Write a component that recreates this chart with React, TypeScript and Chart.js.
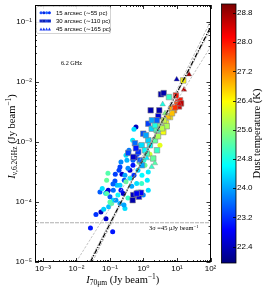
import React, { useEffect, useRef } from 'react';
import { Chart, registerables } from 'chart.js';
Chart.register(...registerables);

// ---------------- data ----------------
// 15 arcsec (circles)
const circleX = [0.0262, 0.0382, 0.0538, 0.076, 0.1205, 0.0914, 0.1124, 0.199, 0.28, 0.262,
  0.0503, 0.0744, 0.083, 0.1256, 0.1, 0.0649, 0.213, 0.199, 0.0871, 0.144,
  0.228, 0.267, 0.186, 0.0797, 0.141, 0.28, 0.395, 0.0889, 0.1256, 0.199,
  0.301, 0.445, 0.627, 0.883, 0.1, 0.597, 0.52, 0.476, 3.11, 0.787,
  0.653, 0.569, 1.56, 1.11, 1.39, 0.486, 0.486, 0.344, 0.685, 0.902,
  0.395, 0.162, 0.0589, 0.0797, 0.249, 0.986, 1.39, 1.3, 0.321, 0.369,
  0.301, 1.03, 0.734, 0.173, 0.151, 0.344, 0.213, 0.123, 0.52];
const circleY = [3.67e-5, 6.15e-5, 6.78e-5, 5.24e-5, 3.18e-5, 8.3e-5, 9.44e-5, 9.44e-5, 7.8e-5, 8.85e-5,
  1.47e-4, 1.4e-4, 1.47e-4, 1.07e-4, 9.93e-5, 7.59e-5, 4.63e-4, 3.83e-4, 3.0e-4, 2.9e-4,
  2.9e-4, 2.3e-4, 3.37e-4, 2.3e-4, 2.24e-4, 2.79e-4, 3.37e-4, 1.57e-4, 1.57e-4, 1.9e-4,
  2.16e-4, 1.83e-4, 2.03e-4, 2.03e-4, 1.22e-4, 1.77e-3, 1.62e-3, 1.06e-3, 8.8e-4, 8.8e-4,
  6.22e-4, 5.4e-4, 6.22e-4, 4.08e-4, 3.16e-4, 4.94e-4, 4.08e-4, 3.64e-4, 3.37e-4, 2.79e-4,
  2.48e-4, 1.9e-4, 1.67e-4, 1.38e-4, 1.38e-4, 1.3e-4, 1.57e-4, 2.3e-4, 4.94e-4, 7.24e-4,
  5.98e-4, 4.94e-4, 4.58e-4, 1.3e-4, 1.07e-4, 1.16e-4, 1.57e-4, 1.98e-4, 2.79e-4];
const circleT = [23.0, 23.2, 22.4, 22.5, 23.0, 24.2, 25.2, 24.0, 24.4, 24.0,
  23.5, 24.3, 22.5, 24.4, 25.2, 24.3, 23.8, 23.3, 25.2, 23.3,
  22.5, 23.4, 23.3, 25.3, 23.4, 24.0, 22.6, 22.6, 23.6, 24.3,
  25.3, 24.0, 24.4, 25.0, 23.5, 22.4, 24.4, 24.5, 26.2, 24.2,
  23.3, 22.5, 26.0, 25.3, 24.5, 23.5, 23.0, 23.8, 24.3, 24.6,
  24.5, 24.2, 24.4, 25.2, 22.5, 23.8, 24.4, 24.5, 24.1, 23.7,
  24.4, 24.9, 25.4, 24.6, 23.9, 25.0, 23.0, 23.5, 23.2];

// 30 arcsec (squares)
const squareX = [3.33, 4.01, 5.77, 15.4, 10.7, 12.3, 10.0, 11.5, 13.2, 8.13,
  6.95, 8.71, 1.64, 2.96, 2.77, 6.18, 5.5, 4.7, 4.93, 3.9,
  1.39, 0.986, 1.76, 2.48, 3.11, 1.39, 2.2, 0.883, 0.352, 0.7,
  0.496, 1.25, 1.96, 2.53, 0.557, 0.496, 0.734, 0.7, 0.841, 0.476,
  0.627, 2.71, 3.56, 4.09, 1.19, 1.56, 0.787, 1.11, 2.2, 1.79,
  2.53, 0.902, 0.597, 7.1, 9.33];
const squareY = [6.18e-3, 6.49e-3, 5.57e-3, 1.055e-2, 4.55e-3, 4.91e-3, 4.22e-3, 3.9e-3, 4.37e-3, 3.35e-3,
  3.57e-3, 3.76e-3, 3.35e-3, 3.35e-3, 2.66e-3, 2.59e-3, 2.66e-3, 2.04e-3, 1.82e-3, 1.46e-3,
  2.01e-3, 1.37e-3, 1.66e-3, 1.56e-3, 1.82e-3, 1.06e-3, 1.06e-3, 8.8e-4, 6.55e-4, 6.79e-4,
  5.61e-4, 6.4e-4, 5.28e-4, 7.24e-4, 9.49e-4, 1.3e-4, 1.22e-4, 1.42e-4, 1.42e-4, 1.07e-4,
  1.38e-4, 1.24e-3, 1.68e-3, 2.29e-3, 1.29e-3, 8.8e-4, 4.94e-4, 7.24e-4, 1.89e-3, 2.29e-3,
  2.29e-3, 4.08e-4, 7.84e-4, 2.99e-3, 5.94e-3];
const squareT = [22.3, 22.3, 25.0, 26.4, 28.2, 28.0, 27.7, 28.4, 28.6, 27.3,
  27.0, 27.8, 22.3, 22.3, 22.6, 26.4, 26.8, 26.3, 25.8, 26.3,
  23.3, 23.4, 24.3, 25.2, 25.5, 24.3, 25.3, 24.4, 23.3, 23.2,
  22.5, 25.1, 25.3, 25.0, 23.6, 22.4, 22.6, 24.0, 22.8, 22.3,
  22.8, 25.8, 25.9, 26.0, 24.0, 24.6, 23.5, 24.6, 24.8, 24.0,
  23.5, 24.0, 23.0, 26.8, 28.0];

// 45 arcsec (triangles)
const triX = [9.8, 22.8, 16.2, 3.74, 1.76, 2.2, 11.7, 2.71, 1.27, 4.39];
const triY = [1.096e-2, 1.327e-2, 7.39e-3, 4.22e-3, 3.83e-4, 4.42e-4, 4.32e-3, 1.56e-3, 5.35e-4, 2.99e-3];
const triT = [22.3, 28.8, 28.6, 24.8, 25.0, 25.2, 28.3, 25.0, 24.5, 25.5];

// fit / reference lines (end points)
const fitBlackX = [0.026, 100];
const fitBlackY = [1e-5, 0.081];
const fitUpperX = [0.03, 100];
const fitUpperY = [1e-5, 0.102];
const fitLowerX = [0.024, 100];
const fitLowerY = [1e-5, 0.074];
const fitShallowX = [0.0098, 100];
const fitShallowY = [1e-5, 0.038];
const noiseLevel = 4.5e-5;

// axes
const xMin = 5.8e-4, xMax = 100;
const yMin = 1e-5, yMax = 0.19;
const xDecades = [-3, -2, -1, 0, 1, 2];
const yDecades = [-5, -4, -3, -2, -1];
const tMin = 21.98, tMax = 29.02;
const cbTicks = [22.4, 23.2, 24.0, 24.8, 25.6, 26.4, 27.2, 28.0, 28.8];
const legendLabels = ['15 arcsec (∼55 pc)', '30 arcsec (∼110 pc)', '45 arcsec (∼165 pc)'];
const panelLabel = '6.2 GHz';
const noiseLabel = '3σ =45 μJy beam';

// ---------------- helpers ----------------
const clamp = (v: number) => Math.max(0, Math.min(1, v));
function jet(t: number) {
  const r = clamp(1.5 - Math.abs(4 * t - 3));
  const g = clamp(1.5 - Math.abs(4 * t - 2));
  const b = clamp(1.5 - Math.abs(4 * t - 1));
  return `rgb(${Math.round(r * 255)},${Math.round(g * 255)},${Math.round(b * 255)})`;
}
const tempColor = (T: number) => jet((T - tMin) / (tMax - tMin));
const SUP: Record<string, string> = { '-': '⁻', '0': '⁰', '1': '¹', '2': '²', '3': '³', '4': '⁴', '5': '⁵', '6': '⁶', '7': '⁷', '8': '⁸', '9': '⁹' };
const sup = (n: number) => String(n).split('').map((c) => SUP[c] || c).join('');

const SERIF = "'Liberation Serif', 'DejaVu Serif', serif";
const SANS = "'Liberation Sans', 'DejaVu Sans', sans-serif";

type Seg = { t: string; size: number; italic?: boolean; dy?: number };
function drawRich(ctx: CanvasRenderingContext2D, segs: Seg[], cx: number, cy: number, rot: number) {
  ctx.save();
  ctx.translate(cx, cy);
  ctx.rotate(rot);
  ctx.textAlign = 'left';
  ctx.textBaseline = 'alphabetic';
  ctx.fillStyle = '#000';
  const widths = segs.map((s) => {
    ctx.font = `${s.italic ? 'italic ' : ''}${s.size}px ${SERIF}`;
    return ctx.measureText(s.t).width;
  });
  const total = widths.reduce((a, b) => a + b, 0);
  let x = -total / 2;
  segs.forEach((s, i) => {
    ctx.font = `${s.italic ? 'italic ' : ''}${s.size}px ${SERIF}`;
    ctx.fillText(s.t, x, s.dy || 0);
    x += widths[i];
  });
  ctx.restore();
}

function pts(xs: number[], ys: number[]) {
  return xs.map((x, i) => ({ x, y: ys[i] }));
}

function drawMarker(ctx: CanvasRenderingContext2D, kind: string, x: number, y: number, s: number) {
  ctx.beginPath();
  if (kind === 'circle') ctx.arc(x, y, s, 0, Math.PI * 2);
  else if (kind === 'rect') ctx.rect(x - s, y - s, 2 * s, 2 * s);
  else {
    ctx.moveTo(x, y - s * 1.2);
    ctx.lineTo(x + s * 1.1, y + s * 0.8);
    ctx.lineTo(x - s * 1.1, y + s * 0.8);
    ctx.closePath();
  }
  ctx.fill();
}

const hiddenTicks = (len: number) => ({
  display: true,
  drawOnChartArea: false,
  drawTicks: true,
  tickLength: len,
  color: 'rgba(0,0,0,0)',
});

const decor = {
  id: 'decor',
  afterDatasetsDraw(chart: any) {
    const { ctx, chartArea: a, scales } = chart;
    const xs = scales.x, ys = scales.y;
    ctx.save();
    // frame
    ctx.strokeStyle = '#000';
    ctx.lineWidth = 1;
    ctx.strokeRect(Math.round(a.left) + 0.5, Math.round(a.top) + 0.5, Math.round(a.right) - Math.round(a.left) - 1, Math.round(a.bottom) - Math.round(a.top) - 1);
    // inward log ticks
    ctx.lineWidth = 0.8;
    ctx.beginPath();
    for (let n = -4; n <= 2; n++) {
      for (let k = 1; k <= 9; k++) {
        const v = k * Math.pow(10, n);
        if (v < xMin * 0.999 || v > xMax * 1.001) continue;
        const p = Math.round(xs.getPixelForValue(v)) + 0.5;
        const len = k === 1 ? 4 : 2;
        ctx.moveTo(p, a.bottom); ctx.lineTo(p, a.bottom - len);
        ctx.moveTo(p, a.top); ctx.lineTo(p, a.top + len);
      }
    }
    for (let n = -5; n <= -1; n++) {
      for (let k = 1; k <= 9; k++) {
        const v = k * Math.pow(10, n);
        if (v < yMin * 0.999 || v > yMax * 1.001) continue;
        const p = Math.round(ys.getPixelForValue(v)) + 0.5;
        const len = k === 1 ? 4 : 2;
        ctx.moveTo(a.left, p); ctx.lineTo(a.left + len, p);
        ctx.moveTo(a.right, p); ctx.lineTo(a.right - len, p);
      }
    }
    ctx.stroke();

    // legend box
    const lx = a.left + 1.5, ly = a.top + 1.5, lw = 74, lh = 27;
    ctx.fillStyle = 'rgba(255,255,255,0.9)';
    ctx.strokeStyle = '#c8c8c8';
    ctx.lineWidth = 0.8;
    ctx.beginPath();
    ctx.roundRect(lx, ly, lw, lh, 1.5);
    ctx.fill();
    ctx.stroke();
    const kinds = ['circle', 'rect', 'triangle'];
    const legCols = [['#1e50ff', '#0a28e0', '#1e64ff', '#0030ff'], ['#1428c8', '#0a1eb4', '#1e3cdc', '#0a28c8'], ['#1e3cff', '#1432e6', '#1e46ff', '#1432f0']];
    kinds.forEach((k, r) => {
      const cy = ly + 6.2 + r * 8.3;
      for (let i = 0; i < 4; i++) {
        ctx.fillStyle = legCols[r][i];
        drawMarker(ctx, k, lx + 4.5 + i * 2.8, cy, k === 'circle' ? 1.5 : k === 'rect' ? 1.5 : 1.4);
      }
      ctx.fillStyle = '#000';
      ctx.font = `6px ${SANS}`;
      ctx.textBaseline = 'middle';
      ctx.textAlign = 'left';
      ctx.fillText(legendLabels[r], lx + 19.5, cy + 0.3);
    });

    // panel label
    ctx.fillStyle = '#000';
    ctx.textBaseline = 'alphabetic';
    ctx.textAlign = 'left';
    ctx.font = `6.2px ${SERIF}`;
    ctx.fillText(panelLabel, 61, 64.5);

    // noise label
    const nb = ys.getPixelForValue(noiseLevel) + 7.5;
    ctx.textAlign = 'right';
    ctx.font = `6.4px ${SERIF}`;
    const supW = 4.5;
    ctx.fillText(noiseLabel, 198 - supW, nb);
    ctx.font = `4.5px ${SERIF}`;
    ctx.textAlign = 'left';
    ctx.fillText('−1', 198 - supW + 0.3, nb - 2.7);
    ctx.restore();
  },
  afterDraw(chart: any) {
    const { ctx, chartArea: a, scales } = chart;
    const cb = scales.cb;
    ctx.save();
    // colorbar
    const bx = 221.5, bw = 14.5;
    const top = cb.top - 1, bot = cb.bottom + 1;
    for (let y = Math.floor(top); y < bot; y++) {
      const T = cb.getValueForPixel(y + 0.5);
      ctx.fillStyle = tempColor(T);
      ctx.fillRect(bx, y, bw, 1);
    }
    ctx.strokeStyle = '#000';
    ctx.lineWidth = 0.8;
    ctx.strokeRect(bx, Math.floor(top), bw, Math.ceil(bot) - Math.floor(top));
    ctx.beginPath();
    cbTicks.forEach((t) => {
      const p = Math.round(cb.getPixelForValue(t)) + 0.5;
      ctx.moveTo(bx + bw, p);
      ctx.lineTo(bx + bw - 3, p);
    });
    ctx.stroke();
    ctx.restore();

    // axis titles
    drawRich(ctx, [
      { t: 'I', size: 10.5, italic: true },
      { t: 'ν,6.2GHz', size: 7.5, dy: 2.2 },
      { t: ' (Jy beam', size: 10.5 },
      { t: '−1', size: 7.5, dy: -4 },
      { t: ')', size: 10.5 },
    ], 14.5, (a.top + a.bottom) / 2 + 3, -Math.PI / 2);
    drawRich(ctx, [
      { t: 'I', size: 10.5, italic: true },
      { t: '70μm', size: 7.5, dy: 2.2 },
      { t: ' (Jy beam', size: 10.5 },
      { t: '−1', size: 7.5, dy: -4 },
      { t: ')', size: 10.5 },
    ], (a.left + a.right) / 2, 282.5, 0);
    drawRich(ctx, [{ t: 'Dust temperature (K)', size: 10.5 }], 259.5, (cb.top + cb.bottom) / 2, -Math.PI / 2);
  },
};

export default function App() {
  const ref = useRef<HTMLCanvasElement | null>(null);
  useEffect(() => {
    if (!ref.current) return;
    const lineDs = (xs: number[], ys: number[], color: string, width: number, dash: number[]) => ({
      type: 'scatter' as const,
      data: pts(xs, ys),
      showLine: true,
      borderColor: color,
      borderWidth: width,
      borderDash: dash,
      pointRadius: 0,
      fill: false,
      order: 0,
    });
    const chart = new Chart(ref.current, {
      type: 'scatter',
      data: {
        datasets: [
          {
            label: legendLabels[0],
            data: pts(circleX, circleY),
            pointStyle: 'circle',
            pointRadius: 2.5,
            pointBackgroundColor: circleT.map(tempColor),
            pointBorderWidth: 0,
            pointBorderColor: 'rgba(0,0,0,0)',
            order: 3,
          },
          {
            label: legendLabels[1],
            data: pts(squareX, squareY),
            pointStyle: 'rect',
            pointRadius: 3.9,
            pointBackgroundColor: squareT.map(tempColor),
            pointBorderWidth: 0.6,
            pointBorderColor: '#8a8a8a',
            order: 2,
          },
          {
            label: legendLabels[2],
            data: pts(triX, triY),
            pointStyle: 'triangle',
            pointRadius: 3.2,
            pointBackgroundColor: triT.map(tempColor),
            pointBorderWidth: 0.4,
            pointBorderColor: '#8a8a8a',
            order: 1,
          },
          lineDs(fitShallowX, fitShallowY, '#b4b4b4', 0.8, [2.5, 1.5]),
          lineDs(fitUpperX, fitUpperY, '#a0a0a0', 0.7, [3, 1.5]),
          lineDs(fitLowerX, fitLowerY, '#a0a0a0', 0.7, [3, 1.5]),
          lineDs(fitBlackX, fitBlackY, '#000', 1.3, [5, 1.5, 1.2, 1.5]),
          lineDs([xMin, xMax], [noiseLevel, noiseLevel], '#9a9a9a', 0.8, [4, 1]),
        ] as any,
      },
      options: {
        animation: false,
        responsive: false,
        events: [],
        layout: { padding: { top: 5, left: 0, right: 0, bottom: 0 } },
        plugins: { legend: { display: false }, tooltip: { enabled: false }, title: { display: false } },
        scales: {
          x: {
            type: 'logarithmic',
            position: 'bottom',
            min: xMin,
            max: xMax,
            grid: hiddenTicks(3),
            border: { display: false },
            afterBuildTicks: (s: any) => { s.ticks = xDecades.map((d) => ({ value: Math.pow(10, d) })); },
            afterFit: (s: any) => { s.height = 33; },
            ticks: {
              autoSkip: false,
              maxRotation: 0,
              padding: 0,
              color: '#000',
              font: { family: SANS, size: 8, lineHeight: 1 },
              callback: (v: any) => '10' + sup(Math.round(Math.log10(Number(v)))),
            },
          },
          y: {
            type: 'logarithmic',
            position: 'left',
            min: yMin,
            max: yMax,
            grid: hiddenTicks(3),
            border: { display: false },
            afterBuildTicks: (s: any) => { s.ticks = yDecades.map((d) => ({ value: Math.pow(10, d) })); },
            afterFit: (s: any) => { s.width = 35; },
            ticks: {
              autoSkip: false,
              padding: 0,
              color: '#000',
              font: { family: SANS, size: 8, lineHeight: 1 },
              callback: (v: any) => '10' + sup(Math.round(Math.log10(Number(v)))),
            },
          },
          cb: {
            type: 'linear',
            position: 'right',
            min: tMin,
            max: tMax,
            grid: hiddenTicks(26.5),
            border: { display: false },
            afterBuildTicks: (s: any) => { s.ticks = cbTicks.map((v) => ({ value: v })); },
            afterFit: (s: any) => { s.width = 64.5; },
            ticks: {
              autoSkip: false,
              padding: 0,
              color: '#000',
              font: { family: SANS, size: 8, lineHeight: 1 },
              callback: (v: any) => Number(v).toFixed(1),
            },
          },
        },
      },
      plugins: [decor],
    } as any);
    return () => chart.destroy();
  }, []);
  return (
    <div style={{ position: 'fixed', left: 0, top: 0, width: 275, height: 295, background: '#fff' }}>
      <canvas ref={ref} width={275} height={295} />
    </div>
  );
}
